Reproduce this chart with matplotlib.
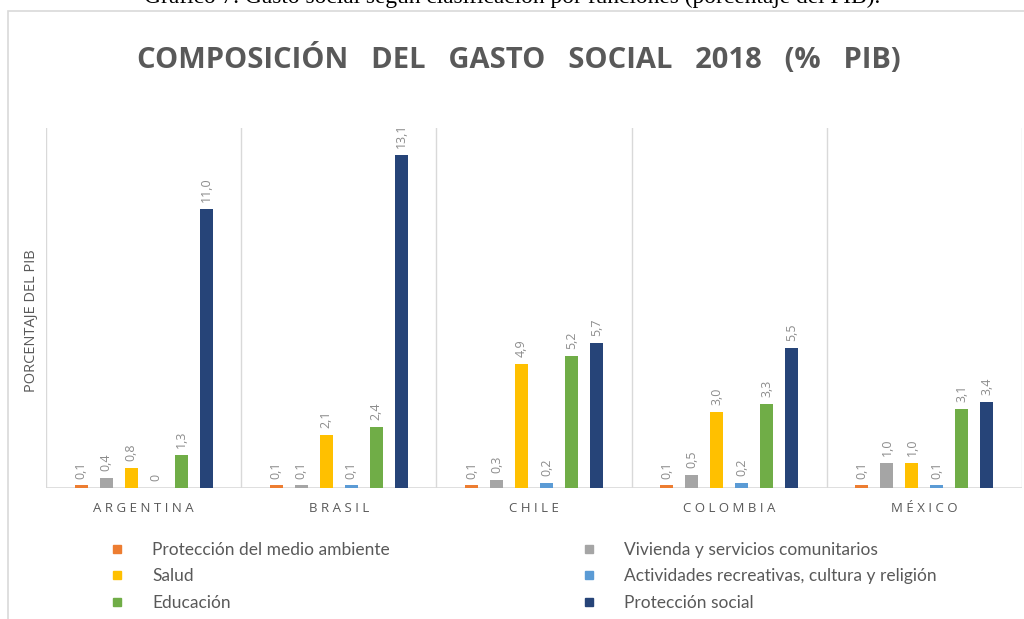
import numpy as np
import matplotlib.pyplot as plt
from matplotlib.lines import Line2D
from matplotlib.patches import Rectangle

# data (% PIB, 2018)
paises = ['ARGENTINA', 'BRASIL', 'CHILE', 'COLOMBIA', 'MÉXICO']
series = ['Protección del medio ambiente', 'Vivienda y servicios comunitarios',
          'Salud', 'Actividades recreativas, cultura y religión',
          'Educación', 'Protección social']
medio_ambiente = [0.1, 0.1, 0.1, 0.1, 0.1]
vivienda = [0.4, 0.1, 0.3, 0.5, 1.0]
salud = [0.8, 2.1, 4.9, 3.0, 1.0]
recreacion = [0.0, 0.1, 0.2, 0.2, 0.1]
educacion = [1.3, 2.4, 5.2, 3.3, 3.1]
proteccion_social = [11.0, 13.1, 5.7, 5.5, 3.4]

valores = [medio_ambiente, vivienda, salud, recreacion, educacion, proteccion_social]
colores = ['#ED7D31', '#A5A5A5', '#FFC000', '#5B9BD5', '#70AD47', '#264478']

W, H = 1024, 619
fig = plt.figure(figsize=(W / 100, H / 100), dpi=100)
fig.patch.set_facecolor('white')

# chart frame (only left/top edges visible)
fig.patches.append(Rectangle((8 / W, -0.1), 1.2, 1 - 11 / H + 0.1,
                             transform=fig.transFigure, fill=False,
                             edgecolor='#d9d9d9', linewidth=1.2))

# caption above the chart, mostly cut off
fig.text(512 / W, 1 - 3 / H, 'Gráfico 7. Gasto social según clasificación por funciones (porcentaje del PIB).',
         ha='center', va='baseline', fontsize=16.8, family='Liberation Serif', color='black')

fig.text(519 / W, 1 - 60 / H, 'COMPOSICIÓN   DEL   GASTO   SOCIAL   2018   (%   PIB)',
         ha='center', va='center', fontsize=21, fontweight='bold',
         family='Open Sans', color='#595959')

# plot area in pixels: x 46..1022, y 128..488
x0, x1, ytop, ybot = 46, 1022, 128, 488
ax = fig.add_axes([x0 / W, 1 - ybot / H, (x1 - x0) / W, (ybot - ytop) / H])
ymax = (ybot - ytop) / 25.4
ax.set_xlim(-0.5, len(paises) - 0.5)
ax.set_ylim(0, ymax)

x = np.arange(len(paises))
paso = 0.128
ancho = 0.066
for j, (vals, c) in enumerate(zip(valores, colores)):
    pos = x + (j - 2.5) * paso
    ax.bar(pos, vals, width=ancho, color=c, zorder=3)
    for p, v in zip(pos, vals):
        txt = '0' if v == 0 else f'{v:.1f}'.replace('.', ',')
        ax.annotate(txt, (p, v), xytext=(0, 5), textcoords='offset points',
                    rotation=90, ha='center', va='bottom', fontsize=9,
                    color='#8c8c8c', family='Open Sans')

# separators between countries
for b in np.arange(len(paises) + 1) - 0.5:
    ax.axvline(b, color='#d9d9d9', linewidth=1, zorder=1)
ax.axhline(0, color='#d9d9d9', linewidth=1.2, zorder=2)

for s in ax.spines.values():
    s.set_visible(False)
ax.set_yticks([])
ax.set_xticks(x)
ax.set_xticklabels([' '.join(p) for p in paises], fontsize=9.5,
                   color='#595959', family='Open Sans')
ax.tick_params(axis='x', length=0, pad=10)

fig.text(32 / W, 1 - 321 / H, 'PORCENTAJE DEL PIB', rotation=90, ha='center',
         va='center', fontsize=10.5, color='#595959', family='Open Sans')

# legend: two columns
def handle(c):
    return Line2D([], [], marker='s', linestyle='none', markersize=6,
                  markerfacecolor=c, markeredgecolor=c)

for cols, xm in (([0, 2, 4], 115), ([1, 3, 5], 587)):
    fig.legend([handle(colores[k]) for k in cols], [series[k] for k in cols],
               loc='upper left', bbox_to_anchor=((xm - 15) / W, 1 - 533 / H),
               frameon=False, handlelength=1.0, handletextpad=1.5,
               labelspacing=0.62, borderpad=0,
               prop={'family': 'Lato', 'size': 12.5}, labelcolor='#595959')

fig.savefig('out.png', dpi=100)
